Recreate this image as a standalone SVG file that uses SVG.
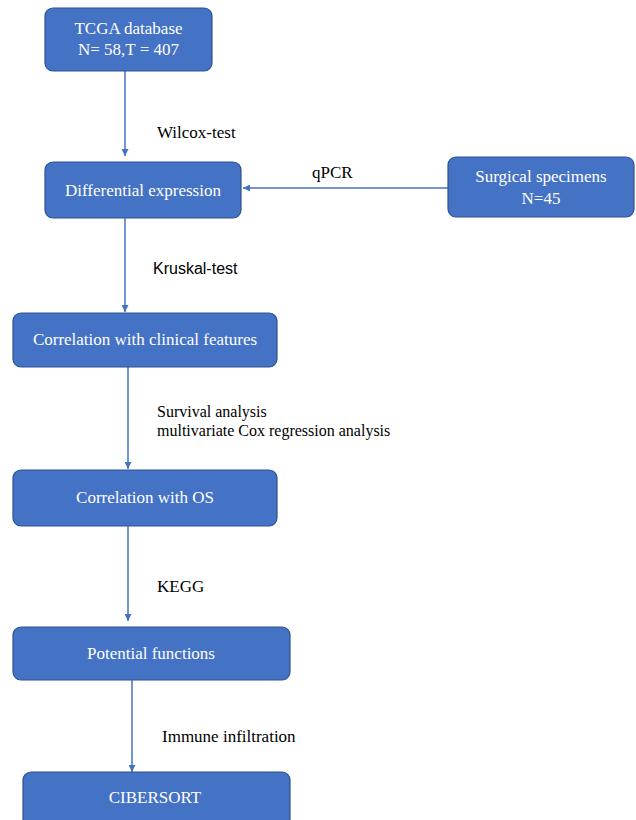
<svg xmlns="http://www.w3.org/2000/svg" width="636" height="820" viewBox="0 0 636 820">
<defs>
<marker id="ah" viewBox="0 0 10 10" refX="10" refY="5" markerWidth="7" markerHeight="7" orient="auto" markerUnits="userSpaceOnUse">
<path d="M0,0 L10,5 L0,10 z" fill="#4472C4"/>
</marker>
<style>
.box{fill:#4472C4;stroke:#2F528F;stroke-width:1.2}
.bt{font-family:"Liberation Serif",serif;font-size:17px;fill:#fff;text-anchor:middle}
.lb{font-family:"Liberation Serif",serif;font-size:16px;fill:#000}
.lb2{font-family:"Liberation Serif",serif;font-size:17px;fill:#000}
.lbs{font-family:"Liberation Sans",sans-serif;font-size:16px;fill:#000}
.cn{stroke:#4472C4;stroke-width:1.5;fill:none;marker-end:url(#ah)}
</style>
</defs>
<rect width="636" height="820" fill="#fff"/>
<g id="connectors">
<line class="cn" x1="125" y1="71" x2="125" y2="156"/>
<line class="cn" x1="448" y1="188" x2="243" y2="188"/>
<line class="cn" x1="125" y1="218" x2="125" y2="312"/>
<line class="cn" x1="128" y1="367" x2="128" y2="469"/>
<line class="cn" x1="128" y1="526" x2="128" y2="621"/>
<line class="cn" x1="132" y1="680" x2="132" y2="772"/>
<text class="lb2" x="157" y="138">Wilcox-test</text>
<text class="lb2" x="312" y="178">qPCR</text>
<text class="lbs" x="153" y="274">Kruskal-test</text>
<text class="lb" x="157" y="417">Survival analysis</text>
<text class="lb" x="157" y="436">multivariate Cox regression analysis</text>
<text class="lb2" x="157" y="592">KEGG</text>
<text class="lb2" x="162" y="742">Immune infiltration</text>
</g>
<g id="tcga">
<rect class="box" x="45" y="8" width="167" height="63" rx="8"/>
<text class="bt" x="128.5" y="34">TCGA database</text>
<text class="bt" x="128.5" y="55">N= 58,T = 407</text>
</g>
<g id="diff">
<rect class="box" x="45" y="162" width="196" height="56" rx="8"/>
<text class="bt" x="143" y="196">Differential expression</text>
</g>
<g id="surgical">
<rect class="box" x="448" y="157" width="186" height="60" rx="8"/>
<text class="bt" x="541" y="182">Surgical specimens</text>
<text class="bt" x="541" y="204">N=45</text>
</g>
<g id="clinical">
<rect class="box" x="13" y="313" width="264" height="54" rx="8"/>
<text class="bt" x="145" y="345">Correlation with clinical features</text>
</g>
<g id="os">
<rect class="box" x="13" y="470" width="264" height="56" rx="8"/>
<text class="bt" x="145" y="503">Correlation with OS</text>
</g>
<g id="functions">
<rect class="box" x="13" y="627" width="277" height="53" rx="8"/>
<text class="bt" x="151" y="659">Potential functions</text>
</g>
<g id="cibersort">
<rect class="box" x="23" y="772" width="267" height="60" rx="8"/>
<text class="bt" x="155" y="803">CIBERSORT</text>
</g>
</svg>
